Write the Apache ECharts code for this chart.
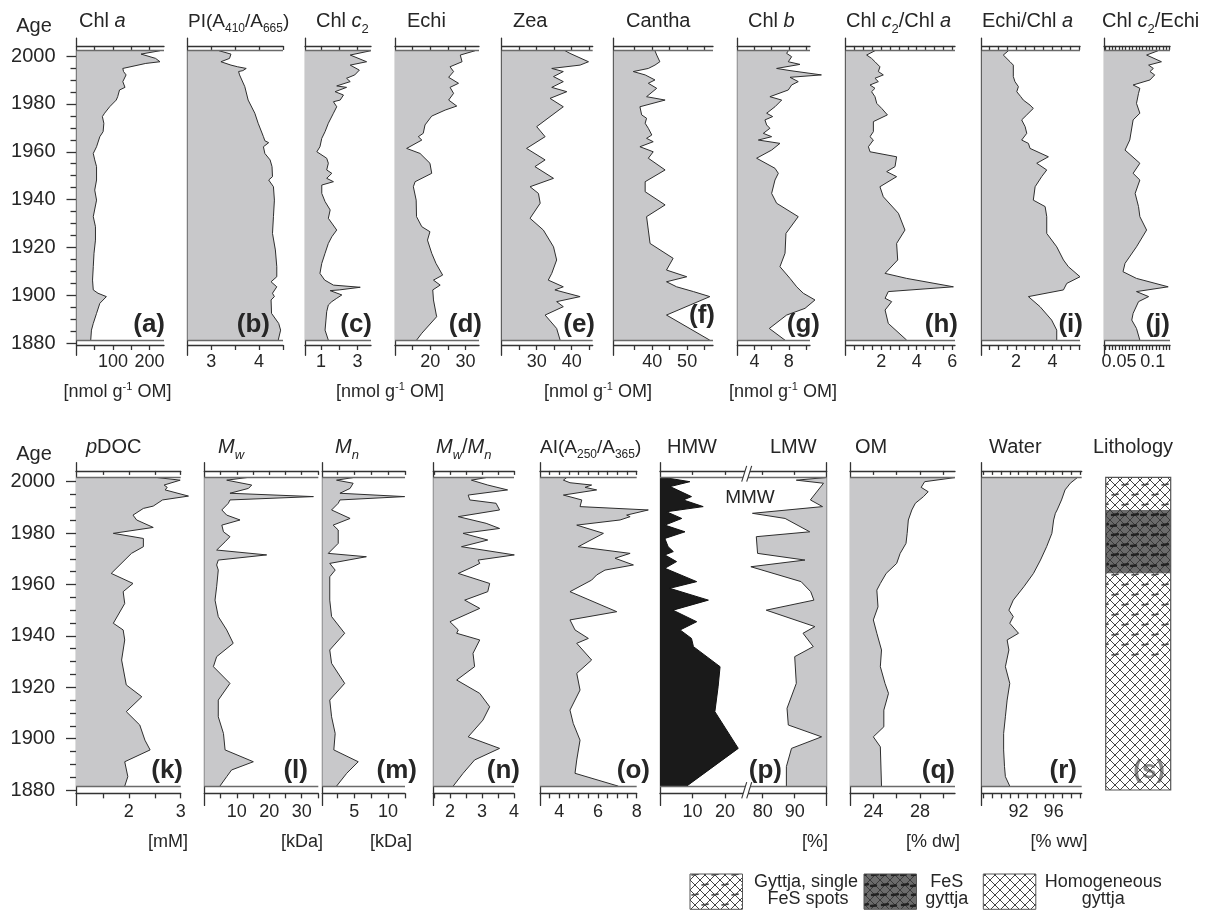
<!DOCTYPE html>
<html><head><meta charset="utf-8">
<script src="https://cdn.jsdelivr.net/npm/echarts@6/dist/echarts.min.js"></script>
<style>html,body{margin:0;padding:0;background:#fff}#c{width:1214px;height:914px}</style>
</head><body><div id="c"></div>
<script>
// ---------------- DATA (age [yr AD] / value) ----------------
const ageA = [2002.2,2000.8,1999.0,1997.6,1996.9,1994.8,1993.5,1992.1,1989.3,1986.9,1985.8,1983.0,1981.6,1978.8,1976.1,1974.7,1971.9,1971.2,1968.4,1966.3,1962.1,1959.3,1956.6,1953.8,1948.2,1944.0,1939.8,1932.9,1928.7,1923.1,1917.6,1912.0,1906.4,1902.3,1900.9,1899.5,1896.7,1892.5,1888.3,1885.5,1881.3];
const chlA = [229,177,217,229,190,127,129,136,127,133,118,113,109,91,77,71,75,80,73,64,55,46,50,55,55,50,55,46,52,52,48,46,44,46,59,82,64,55,46,41,39];
const ageB = [2002.2,2000.8,1999.0,1997.6,1996.2,1995.5,1994.8,1993.9,1993.5,1992.1,1987.2,1981.6,1976.1,1971.9,1966.3,1964.6,1963.8,1962.1,1959.3,1956.6,1953.8,1949.6,1948.2,1945.4,1939.8,1932.9,1925.9,1919.0,1912.0,1907.8,1905.7,1903.6,1900.9,1899.5,1898.1,1892.5,1888.3,1885.5,1881.3];
const piB = [3.16,3.41,3.38,3.2,3.41,3.55,3.73,3.66,3.57,3.59,3.7,3.77,3.91,3.98,4.09,4.12,4.2,4.09,4.12,4.23,4.27,4.28,4.2,4.3,4.32,4.3,4.28,4.34,4.37,4.37,4.25,4.37,4.28,4.32,4.25,4.26,4.41,4.45,4.4];
const ageC = [2002.2,2000.4,1997.6,1996.2,1994.1,1992.1,1990.7,1989.3,1987.5,1986.9,1985.1,1983.7,1981.6,1980.9,1978.8,1976.1,1971.9,1968.4,1965.6,1962.1,1960.0,1957.3,1955.2,1952.4,1951.0,1948.9,1947.5,1946.1,1942.6,1939.2,1935.7,1932.2,1927.3,1924.5,1921.7,1917.6,1913.4,1909.2,1906.4,1904.3,1903.4,1902.3,1902.0,1900.2,1898.8,1897.4,1896.0,1893.2,1889.7,1885.5,1881.3];
const chlC2 = [3.73,2.6,3.5,2.6,3.1,2.85,2.4,2.6,1.86,2.4,1.77,2.23,2.05,1.68,1.86,1.68,1.4,1.22,1.04,0.94,0.77,1.31,1.4,1.31,1.59,1.31,1.68,1.04,1.04,1.22,1.5,1.4,1.86,1.59,1.4,1.22,1.04,0.94,1.2,1.68,3.15,2.0,1.5,2.14,1.86,1.59,1.4,1.31,1.27,1.22,1.4];
const ageD = [2002.2,2000.4,1997.6,1995.5,1993.5,1991.1,1988.6,1986.9,1984.4,1981.6,1979.1,1977.4,1974.9,1971.2,1967.7,1966.3,1964.9,1961.4,1959.3,1955.2,1951.0,1947.5,1945.4,1939.8,1932.9,1928.7,1926.6,1923.1,1917.6,1913.4,1908.5,1906.4,1904.3,1902.3,1898.1,1891.1,1884.2,1881.3];
const echi = [32.7,28.5,29.0,25.6,26.6,25.2,28.0,25.6,26.6,25.2,27.5,24.2,20.4,18.5,18.0,16.6,17.6,13.3,17.1,19.9,20.4,15.7,15.2,16.0,16.1,17.6,19.9,19.2,20.4,21.6,23.5,20.9,22.8,20.7,20.9,21.8,17.6,16.1];
const ageE = [2002.2,2001.1,1997.6,1996.2,1994.8,1993.5,1991.4,1989.3,1986.9,1985.1,1982.3,1978.8,1970.5,1966.3,1961.4,1956.6,1953.8,1948.9,1945.4,1942.6,1938.5,1932.2,1927.3,1920.3,1914.8,1909.2,1906.4,1903.6,1902.3,1899.5,1897.4,1895.3,1891.8,1886.2,1881.3];
const zea = [38.1,39.5,44.8,42.4,34.3,37.6,34.8,37.6,34.3,38.6,33.8,37.6,30.0,32.4,27.1,32.4,29.5,34.8,28.1,30.5,31.0,28.1,31.9,34.8,35.7,34.3,33.3,37.6,35.2,42.4,35.7,37.6,32.4,35.7,36.7];
const ageF = [2002.2,2000.4,1997.6,1996.2,1994.8,1993.5,1992.1,1990.0,1988.6,1986.5,1983.0,1981.6,1978.8,1975.4,1974.0,1971.9,1969.8,1967.0,1965.6,1964.2,1962.1,1960.0,1957.3,1952.4,1947.5,1943.3,1937.8,1932.9,1927.3,1921.7,1915.5,1910.6,1907.8,1905.7,1903.6,1901.6,1899.5,1891.8,1881.3];
const cantha = [40.8,41.3,42.2,40.8,38.9,34.6,38.0,40.8,38.9,41.3,38.4,43.7,36.5,37.0,38.4,38.0,38.9,39.9,38.4,40.3,36.5,40.3,38.9,43.7,38.0,38.0,43.7,38.4,38.9,39.4,46.0,44.1,49.9,44.1,47.0,51.8,56.5,44.1,56.5];
const ageG = [2002.2,2001.1,1999.7,1997.6,1996.5,1994.8,1993.9,1992.1,1991.1,1989.3,1987.9,1985.8,1983.0,1981.6,1978.8,1976.1,1974.7,1973.3,1971.2,1969.8,1967.7,1966.3,1964.9,1963.5,1960.7,1957.3,1953.1,1951.0,1948.2,1942.6,1938.5,1932.9,1925.9,1917.6,1912.0,1907.1,1903.6,1900.9,1898.1,1894.6,1891.8,1886.2,1881.3];
const chlB = [7.94,7.75,8.33,7.94,9.3,6.58,8.14,11.8,8.14,9.1,8.33,7.94,5.8,7.17,6.39,5.42,6.12,5.22,5.42,5.8,5.03,6.0,4.45,6.97,6.0,4.25,6.39,6.78,6.39,6.0,6.58,9.1,7.67,7.56,6.97,8.14,8.92,9.69,11.05,9.89,7.75,5.73,7.56];
const ageH = [2002.2,2000.4,1999.0,1997.6,1995.5,1993.5,1992.1,1990.7,1989.3,1987.9,1986.5,1985.1,1983.0,1980.2,1978.1,1975.4,1972.6,1968.4,1966.3,1964.9,1962.1,1960.0,1957.9,1953.8,1951.7,1949.6,1945.4,1941.2,1934.3,1927.3,1921.7,1914.8,1909.2,1907.1,1903.6,1901.6,1898.8,1897.4,1893.9,1888.3,1881.3];
const c2ChlA = [1.65,1.18,1.46,1.65,1.93,1.84,2.12,1.65,1.84,1.37,1.65,1.46,1.65,1.75,2.03,2.35,1.56,1.56,1.37,1.56,1.28,1.37,2.87,2.78,2.31,2.87,1.93,2.12,2.97,3.34,2.87,2.93,2.22,3.44,6.07,2.4,2.22,2.59,2.22,2.4,3.44];
const ageI = [2002.2,2000.4,1997.6,1996.2,1991.4,1989.3,1987.2,1985.1,1983.0,1981.6,1979.5,1978.1,1975.4,1973.3,1970.5,1967.7,1964.9,1963.5,1961.4,1957.9,1955.2,1952.4,1949.6,1945.4,1939.8,1937.1,1932.9,1925.9,1920.3,1914.8,1912.0,1907.8,1905.0,1902.3,1899.5,1895.3,1889.7,1885.5,1881.3];
const echiChlA = [1.58,1.3,1.67,1.85,1.85,1.94,2.13,2.04,2.26,2.4,2.77,2.95,2.59,2.31,2.5,2.59,2.31,2.68,2.77,3.78,3.14,3.69,3.41,3.05,2.95,3.6,3.69,3.69,4.24,4.61,4.88,5.52,4.79,4.61,2.68,3.32,3.96,4.24,4.24];
const ageJ = [2002.2,2000.4,1997.6,1996.2,1994.8,1993.5,1992.1,1990.0,1987.9,1986.5,1984.4,1980.2,1976.1,1973.3,1964.9,1960.7,1955.2,1951.0,1948.2,1942.6,1937.1,1932.9,1927.3,1920.3,1913.4,1909.9,1907.1,1903.6,1901.6,1899.5,1897.4,1892.5,1889.7,1886.2,1881.3];
const c2Echi = [0.108,0.091,0.113,0.094,0.101,0.096,0.103,0.096,0.071,0.081,0.079,0.076,0.081,0.071,0.066,0.059,0.081,0.071,0.081,0.074,0.079,0.081,0.091,0.076,0.059,0.056,0.076,0.123,0.076,0.094,0.079,0.071,0.069,0.076,0.081];
const ageK = [2001.6,2000.6,1998.7,1997.8,1996.8,1994.4,1992.9,1990.5,1989.6,1987.0,1985.1,1982.2,1979.9,1977.9,1974.7,1972.1,1964.3,1960.4,1957.2,1952.6,1944.9,1942.3,1938.4,1930.6,1920.9,1916.3,1910.5,1905.3,1899.4,1895.6,1891.0,1885.2,1881.5];
const pDOC = [2.55,2.99,2.68,2.74,2.7,3.15,2.65,2.47,2.28,2.08,2.15,2.47,1.7,2.28,2.28,2.05,1.66,2.08,1.89,1.92,1.7,1.89,1.92,1.86,1.95,2.25,1.95,2.21,2.31,2.41,1.92,1.98,1.92];
const ageL = [2001.6,2000.6,1998.7,1997.4,1995.5,1994.2,1992.9,1991.6,1989.0,1987.0,1985.1,1983.1,1980.5,1978.6,1976.6,1973.4,1971.5,1969.5,1967.6,1965.6,1959.1,1953.9,1947.5,1942.3,1937.1,1931.9,1928.0,1921.5,1915.0,1908.5,1902.0,1895.6,1891.0,1887.8,1885.2,1881.5];
const mw = [13.1,6.9,14.6,13.6,7.9,33.6,7.9,7.4,5.4,6.9,11.0,5.4,5.9,7.9,6.4,3.8,19.2,4.3,3.8,4.3,3.8,3.3,4.3,6.9,8.9,3.8,2.8,7.9,4.3,4.3,5.9,6.4,15.1,8.4,6.9,4.8];
const ageM = [2001.6,2000.6,1999.4,1997.4,1995.5,1994.2,1992.9,1991.6,1989.0,1985.7,1983.1,1981.2,1976.0,1972.1,1970.8,1968.2,1965.6,1963.0,1953.9,1947.5,1941.0,1934.5,1929.3,1921.5,1915.0,1908.5,1902.0,1895.6,1891.0,1886.5,1881.5];
const mn = [4.85,2.4,4.85,4.4,2.9,12.45,2.9,2.65,1.67,4.4,1.9,2.65,2.65,1.18,6.8,1.4,2.2,1.4,1.4,1.67,3.6,1.4,1.67,3.6,1.4,1.67,2.2,2.0,5.6,3.9,2.4];
const ageN = [2001.6,2000.6,1998.7,1996.8,1994.8,1992.9,1991.6,1989.0,1986.4,1983.8,1981.8,1979.9,1977.3,1974.7,1971.5,1969.5,1968.2,1966.9,1964.3,1960.4,1957.2,1953.9,1950.7,1945.5,1942.3,1941.0,1938.4,1933.2,1928.0,1922.8,1917.6,1912.4,1907.2,1900.7,1896.2,1891.7,1886.5,1881.5];
const mwMn = [3.13,2.67,3.18,3.8,2.57,2.62,3.44,3.55,2.26,3.13,3.55,2.41,3.18,2.36,4.01,2.88,2.93,2.72,2.26,3.24,3.18,2.46,2.93,2.0,2.26,2.21,2.93,2.72,2.77,2.21,2.93,3.24,3.03,2.57,3.55,2.77,2.41,2.1];
const ageO = [2001.6,2000.6,1999.6,1998.7,1997.8,1996.8,1994.8,1992.9,1990.3,1989.0,1987.0,1986.4,1985.1,1983.1,1979.9,1974.7,1972.1,1970.2,1967.6,1965.6,1963.7,1961.7,1957.2,1949.4,1946.2,1942.3,1939.0,1937.1,1930.6,1925.4,1918.9,1911.1,1905.9,1899.4,1891.7,1886.5,1881.5];
const aiO = [4.38,4.21,4.55,5.67,5.33,5.93,4.21,5.16,5.07,8.6,7.48,7.66,7.14,4.9,6.28,4.98,7.66,6.88,7.83,6.36,5.93,5.67,4.55,6.97,4.55,4.81,5.5,4.9,5.67,4.9,5.07,4.55,4.72,5.07,4.9,4.81,7.05];
const ageHMW = [2001.6,2000.0,1998.1,1994.2,1992.9,1990.3,1988.3,1985.7,1983.1,1980.5,1977.9,1974.7,1972.8,1971.5,1968.9,1966.3,1961.1,1958.5,1953.9,1950.0,1945.5,1942.3,1939.0,1935.8,1928.0,1920.2,1910.5,1896.2,1881.5];
const hmw = [1.5,9.2,3.1,9.7,7.2,13.3,2.0,6.7,1.5,7.7,1.5,2.5,4.1,1.5,5.1,1.5,11.3,3.0,14.9,4.0,11.3,6.2,9.7,10.3,18.5,17.9,16.9,24.1,8.2];
const ageLMW = [2001.6,2000.6,1999.4,1992.9,1990.3,1987.7,1985.7,1980.5,1978.6,1972.1,1969.5,1966.9,1961.1,1957.2,1953.9,1950.0,1943.6,1941.0,1935.8,1931.9,1921.5,1911.8,1905.3,1900.7,1896.2,1889.1,1881.5];
const hmwPlusMmw = [99.6,90.5,99.0,94.9,98.7,76.8,87.0,94.7,78.0,78.4,93.2,76.3,92.0,95.0,96.0,81.1,96.3,92.6,95.8,90.0,90.5,87.6,88.0,98.4,89.0,87.4,87.4];
const ageQ = [2001.6,2000.0,1997.8,1996.1,1994.2,1991.6,1989.0,1985.1,1979.9,1976.0,1972.1,1968.2,1964.3,1960.4,1957.8,1951.3,1946.2,1941.0,1934.5,1928.0,1921.5,1917.6,1911.1,1904.6,1900.7,1896.8,1881.5];
const om = [31.0,28.4,28.1,28.7,28.3,27.6,27.3,27.0,26.9,26.8,26.3,26.0,25.1,24.6,24.3,24.4,24.0,24.3,24.7,24.6,25.0,25.3,24.9,24.9,24.0,24.6,24.7];
const ageR = [2001.6,1999.4,1996.8,1992.9,1989.0,1987.7,1985.1,1979.9,1974.7,1969.5,1964.3,1959.1,1953.9,1950.0,1947.5,1944.9,1941.0,1938.4,1934.5,1928.0,1921.5,1915.0,1908.5,1902.0,1895.6,1889.1,1885.2,1881.5];
const water = [98.7,97.9,97.3,96.9,96.4,96.2,96.0,95.8,95.2,94.5,93.7,92.6,91.4,90.9,91.4,91.0,92.0,90.7,90.9,90.5,91.0,90.7,90.5,90.3,90.3,90.4,90.5,91.0];
// lithology units: top age, bottom age, type (0 gyttja+FeS spots, 1 FeS gyttja, 2 homogeneous)
const lithoTop = [2001.7,1989.0,1964.3,1930.6];
const lithoBottom = [1989.0,1964.3,1930.6,1880.0];
const lithoType = [0,1,0,2];
// tick labels
const labA=[100,200], labB=[3,4], labC=[1,3], labD=[20,30], labE=[30,40], labF=[40,50], labG=[4,8], labH=[2,4,6], labI=[2,4], labJ=[0.05,0.1];
const labK=[2,3], labL=[10,20,30], labM=[5,10], labN=[2,3,4], labO=[4,6,8], labP1=[10,20], labP2=[80,90], labQ=[24,28], labR=[92,96];

// ---------------- LAYOUT / STYLE ----------------
const FONT = '"Liberation Sans", Arial, Helvetica, sans-serif';
const TXT = '#262626', AX = '#333', FILL = '#c8c8ca', EDGE = '#2e2e2e';
const rows = [
  {y2000:56, y1880:343.3, yrMin:1875, yrMax:2007.5, axB:1879.3, axT:2004.2, dTop:2002.2, dBot:1881.3, lblMargin:8},
  {y2000:481.7, y1880:790, yrMin:1874, yrMax:2007.4, axB:1878.7, axT:2004.2, dTop:2001.6, dBot:1881.5, lblMargin:10}
];
rows.forEach(r => { r.ppy = (r.y1880 - r.y2000)/120; r.px = yr => r.y2000 + (2000 - yr)*r.ppy; });
const steps = (a,b,s) => { const o=[]; for (let v=a; v<=b+1e-9; v+=s) o.push(+v.toFixed(4)); return o; };

const panels = [
  {row:0, x0:76.5, x1:164, min:0, max:240, ticks:[50,100,150,200], labels:labA, age:ageA, val:chlA},
  {row:0, x0:187.5, x1:283, min:2.5, max:4.5, ticks:[3,3.5,4,4.5], labels:labB, age:ageB, val:piB},
  {row:0, x0:305, x1:371, min:0.12, max:3.74, ticks:[1,2,3], labels:labC, age:ageC, val:chlC2},
  {row:0, x0:395, x1:479, min:10, max:33.8, ticks:[15,20,25,30], labels:labD, age:ageD, val:echi},
  {row:0, x0:501.7, x1:592.7, min:20, max:46, ticks:[25,30,35,40,45], labels:labE, age:ageE, val:zea},
  {row:0, x0:613.7, x1:713, min:29, max:57.4, ticks:[35,40,45,50,55], labels:labF, age:ageF, val:cantha},
  {row:0, x0:737.3, x1:810, min:2, max:10.47, ticks:[4,6,8,10], labels:labG, age:ageG, val:chlB},
  {row:0, x0:845.7, x1:955, min:0, max:6.16, ticks:steps(0.5,6,0.5), labels:labH, age:ageH, val:c2ChlA},
  {row:0, x0:981.7, x1:1080, min:0.11, max:5.52, ticks:steps(0.5,5.5,0.5), labels:labI, age:ageI, val:echiChlA},
  {row:0, x0:1104, x1:1170, min:0.0278, max:0.1257, ticks:steps(0.03,0.125,0.005), labels:labJ, age:ageJ, val:c2Echi},
  {row:1, x0:76, x1:180.7, min:0.98, max:3.0, ticks:[1.5,2,2.5,3], labels:labK, age:ageK, val:pDOC},
  {row:1, x0:204.3, x1:318.3, min:0, max:35.1, ticks:[5,10,15,20,25,30,35], labels:labL, age:ageL, val:mw},
  {row:1, x0:322.3, x1:405, min:0.3, max:12.5, ticks:[2.5,5,7.5,10,12.5], labels:labM, age:ageM, val:mn},
  {row:1, x0:433.3, x1:514, min:1.48, max:4, ticks:[1.5,2,2.5,3,3.5,4], labels:labN, age:ageN, val:mwMn},
  {row:1, x0:540, x1:636.7, min:3, max:8, ticks:steps(3.5,8,0.5), labels:labO, age:ageO, val:aiO},
  {row:1, x0:660, x1:746.7, min:0, max:26.7, ticks:[10,20], labels:labP1, age:ageHMW, val:hmw, color:'#1a1a1a', edge:'#111'},
  {row:1, x0:746.7, x1:826.7, min:75, max:100, ticks:[80,90], labels:labP2, age:ageLMW, val:hmwPlusMmw, origin:'end', yRight:true},
  {row:1, x0:850, x1:955, min:22, max:31, ticks:[24,26,28,30], labels:labQ, age:ageQ, val:om},
  {row:1, x0:981.7, x1:1081.7, min:87.8, max:99.2, ticks:steps(88,99,1), labels:labR, age:ageR, val:water}
];

const fmt = v => String(+(+v).toFixed(4));
const grids=[], xAxes=[], yAxes=[], series=[];
const axLS = {color:AX, width:1.3};

panels.forEach(p => {
  const r = rows[p.row], gi = grids.length;
  const top = r.px(r.yrMax), bot = r.px(r.yrMin);
  grids.push({left:p.x0, width:p.x1-p.x0, top:top, height:bot-top, containLabel:false, outerBoundsMode:'none'});
  xAxes.push({gridIndex:gi, type:'value', position:'bottom', min:p.min, max:p.max, offset:-(bot - r.px(r.axB)),
    axisLine:{show:true, onZero:false, lineStyle:axLS},
    axisTick:{show:true, customValues:p.ticks, length:5, lineStyle:axLS},
    axisLabel:{show:true, customValues:p.labels, formatter:fmt, fontSize:18, fontFamily:FONT, color:TXT, margin:r.lblMargin, hideOverlap:false},
    splitLine:{show:false}});
  xAxes.push({gridIndex:gi, type:'value', position:'top', min:p.min, max:p.max, offset:-(r.px(r.axT) - top),
    axisLine:{show:true, onZero:false, lineStyle:axLS},
    axisTick:{show:true, inside:true, customValues:p.ticks, length:4, lineStyle:axLS},
    axisLabel:{show:false}, splitLine:{show:false}});
  yAxes.push({gridIndex:gi, type:'time', position:p.yRight?'right':'left', min:r.yrMin, max:r.yrMax,
    axisLine:{show:true, onZero:false, lineStyle:axLS}, axisTick:{show:false}, axisLabel:{show:false}, splitLine:{show:false}});
  series.push({type:'line', xAxisIndex:xAxes.length-2, yAxisIndex:yAxes.length-1,
    data:p.age.map((a,i)=>[p.val[i], a]), symbol:'none', showSymbol:false, clip:false, silent:true, z:3,
    lineStyle:{color:p.edge||EDGE, width:1}, areaStyle:{color:p.color||FILL, opacity:1, origin:p.origin||'start'},
    markLine:{silent:true, symbol:'none', label:{show:false}, animation:false,
      lineStyle:{color:'#6a6a6a', width:1.4, type:'solid'}, data:[{yAxis:r.dTop},{yAxis:r.dBot}]}});
});

// Age axes (ticks + labels)
[{row:0, x:76.5},{row:1, x:76}].forEach(a => {
  const r = rows[a.row], gi = grids.length;
  grids.push({left:a.x, width:2, top:r.y2000, height:r.y1880-r.y2000, containLabel:false, outerBoundsMode:'none'});
  xAxes.push({gridIndex:gi, type:'value', show:false});
  yAxes.push({gridIndex:gi, type:'value', min:1880, max:2000, interval:20, position:'left',
    axisLine:{show:false}, axisTick:{show:true, length:10, lineStyle:axLS},
    minorTick:{show:true, splitNumber:4, length:6, lineStyle:axLS},
    axisLabel:{fontSize:20, fontFamily:FONT, color:TXT, margin:21, formatter:v => String(Math.round(v))},
    splitLine:{show:false}, minorSplitLine:{show:false}});
});

// Lithology patterns
function makePattern(kind) {
  const S = 20, c = document.createElement('canvas'); c.width = S; c.height = S;
  const g = c.getContext('2d');
  if (kind === 1) { g.fillStyle = '#6c6c6c'; g.fillRect(0,0,S,S); }
  else if (kind === 0) { g.fillStyle = '#fff'; g.fillRect(0,0,S,S); }
  g.strokeStyle = kind === 1 ? '#3a3a3a' : '#444'; g.lineWidth = 1;
  g.beginPath();
  for (let k=-S; k<=2*S; k+=10) { g.moveTo(k,0); g.lineTo(k+S,S); g.moveTo(k,0); g.lineTo(k-S,S); }
  g.stroke();
  if (kind !== 2) {
    g.strokeStyle = kind === 1 ? '#222' : '#4a4a4a'; g.lineWidth = kind === 1 ? 2.4 : 1.7; g.lineCap='round';
    g.beginPath();
    g.moveTo(2,5); g.lineTo(8,4.2); g.moveTo(12,15); g.lineTo(18,14.2);
    if (kind === 1) { g.moveTo(11,6); g.lineTo(16,5.5); g.moveTo(1,15); g.lineTo(6,14.5); }
    g.stroke();
  }
  return {type:'pattern', image:c, repeat:'repeat'};
}
const PAT = [makePattern(0), makePattern(1), makePattern(2)];

{
  const r = rows[1], gi = grids.length;
  const top = r.px(r.yrMax), bot = r.px(r.yrMin);
  grids.push({left:1105.7, width:65, top:top, height:bot-top, containLabel:false, outerBoundsMode:'none'});
  xAxes.push({gridIndex:gi, type:'value', min:0, max:1, show:false});
  yAxes.push({gridIndex:gi, type:'time', min:r.yrMin, max:r.yrMax, show:false});
  series.push({type:'custom', xAxisIndex:xAxes.length-1, yAxisIndex:yAxes.length-1, silent:true, z:5, clip:false,
    data:lithoTop.map((t,i)=>[t, lithoBottom[i], lithoType[i]]),
    encode:{y:[0,1]},
    renderItem:(params, api) => {
      const p0 = api.coord([0, api.value(0)]), p1 = api.coord([1, api.value(1)]);
      return {type:'rect', shape:{x:p0[0], y:p0[1], width:p1[0]-p0[0], height:p1[1]-p0[1]},
        style:{fill:PAT[api.value(2)], stroke:null}};
    }});
}

// ---------------- TEXT / DECORATION ----------------
const mctx = document.createElement('canvas').getContext('2d');
function T(x, y, text, o) {
  o = o || {};
  const al = o.al || 'left', va = o.va || 'middle';
  return {type:'text', x:x, y:y, z:o.z==null?100:o.z, silent:true,
    style:{text:text, fontSize:o.fs||18, fontFamily:FONT, fontStyle:o.it?'italic':'normal', fontWeight:o.b?'bold':'normal',
      fill:o.fill||TXT, align:al, textAlign:al, verticalAlign:va, textVerticalAlign:va}};
}
function run(x, base, parts, fs, align) {
  const items = parts.map(pt => {
    const t = pt[0], s = pt[1] || 'n';
    const it = (s === 'i' || s === 'isub');
    const sz = (s === 'sub' || s === 'isub') ? Math.round(fs*0.65) : s === 'sup' ? Math.round(fs*0.6) : fs;
    const dy = (s === 'sub' || s === 'isub') ? fs*0.25 : s === 'sup' ? -fs*0.38 : 0;
    mctx.font = (it?'italic ':'') + sz + 'px ' + FONT;
    return {t:t, it:it, sz:sz, dy:dy, w:mctx.measureText(t).width};
  });
  const total = items.reduce((a,b)=>a+b.w, 0);
  let cx = align === 'center' ? x - total/2 : align === 'right' ? x - total : x;
  return items.map(itm => { const e = T(cx, base + itm.dy - 0.35*itm.sz, itm.t, {fs:itm.sz, it:itm.it}); cx += itm.w; return e; });
}
const G = [];
// Age headers
G.push(...run(34, 33, [['Age']], 20, 'center'));
G.push(...run(34, 461.5, [['Age']], 20, 'center'));
// Titles
const titleTop = [
  [79, [['Chl '],['a','i']]], [188, [['PI(A'],['410','sub'],['/A'],['665','sub'],[')']]],
  [316, [['Chl '],['c','i'],['2','sub']]], [407, [['Echi']]], [513, [['Zea']]], [626, [['Cantha']]],
  [748, [['Chl '],['b','i']]], [846, [['Chl '],['c','i'],['2','sub'],['/Chl '],['a','i']]],
  [982, [['Echi/Chl '],['a','i']]], [1102, [['Chl '],['c','i'],['2','sub'],['/Echi']]]
];
titleTop.forEach((t,i) => G.push(...run(t[0], 28.5, t[1], i === 1 ? 19 : 20, 'left')));
const titleBot = [
  [86, [['p','i'],['DOC']]], [218, [['M','i'],['w','isub']]], [335, [['M','i'],['n','isub']]],
  [436, [['M','i'],['w','isub'],['/'],['M','i'],['n','isub']]], [540, [['AI(A'],['250','sub'],['/A'],['365','sub'],[')']]],
  [667, [['HMW']]], [770, [['LMW']]], [855, [['OM']]], [989, [['Water']]], [1093, [['Lithology']]]
];
titleBot.forEach((t,i) => G.push(...run(t[0], 454.5, t[1], i === 4 ? 19 : 20, 'left')));
G.push(...run(750, 504, [['MMW']], 19, 'center'));
// Units
const nmol = [['[nmol g'],['-1','sup'],[' OM]']];
[117.5, 390, 598, 783].forEach(x => G.push(...run(x, 398, nmol, 18, 'center')));
[[168,'[mM]'],[302,'[kDa]'],[391,'[kDa]'],[815,'[%]'],[933,'[% dw]'],[1059,'[% ww]']].forEach(u => G.push(...run(u[0], 848, [[u[1]]], 18, 'center')));
// Panel letters
const letTop = [['(a)',165],['(b)',270],['(c)',372],['(d)',482],['(e)',595],['(f)',715,316],['(g)',820],['(h)',958],['(i)',1083],['(j)',1170]];
letTop.forEach(l => G.push(T(l[1], l[2]||325, l[0], {fs:26, b:true, al:'right'})));
const letBot = [['(k)',183],['(l)',308],['(m)',417],['(n)',520],['(o)',650],['(p)',782],['(q)',955],['(r)',1077]];
letBot.forEach(l => G.push(T(l[1], 771, l[0], {fs:26, b:true, al:'right'})));
G.push(T(1165, 771, '(s)', {fs:26, b:true, al:'right', fill:'#8a8a8a', z:0}));
// lithology outline
{
  const r = rows[1], y0 = r.px(lithoTop[0]), y1 = r.px(lithoBottom[lithoBottom.length-1]);
  G.push({type:'rect', z:110, silent:true, shape:{x:1105.7, y:y0, width:65, height:y1-y0}, style:{fill:null, stroke:'#555', lineWidth:1.2}});
}
// axis break marks in panel (p)
{
  const r = rows[1], xb = 746.7;
  const pairs = [[r.px(r.axT)-5, r.px(r.dTop)+4], [r.px(r.dBot)-4, r.px(r.axB)+5]];
  pairs.forEach(([ya, yb]) => {
    G.push({type:'polygon', z:120, silent:true, shape:{points:[[xb-5,yb],[xb,ya],[xb+5,ya],[xb,yb]]}, style:{fill:'#fff', stroke:null}});
    G.push({type:'line', z:121, silent:true, shape:{x1:xb-5, y1:yb, x2:xb, y2:ya}, style:{stroke:AX, lineWidth:1.1}});
    G.push({type:'line', z:121, silent:true, shape:{x1:xb, y1:yb, x2:xb+5, y2:ya}, style:{stroke:AX, lineWidth:1.1}});
  });
}
// legend
[[690,0],[864,1],[983.3,2]].forEach(b => G.push({type:'rect', z:100, silent:true, shape:{x:b[0], y:874, width:52.5, height:35.3}, style:{fill:PAT[b[1]], stroke:'#555', lineWidth:1}}));
G.push(...run(806, 888, [['Gyttja, single']], 18, 'center'));
G.push(...run(808, 905, [['FeS spots']], 18, 'center'));
G.push(...run(946.7, 888, [['FeS']], 18, 'center'));
G.push(...run(946.7, 905, [['gyttja']], 18, 'center'));
G.push(...run(1103.3, 888, [['Homogeneous']], 18, 'center'));
G.push(...run(1103.3, 905, [['gyttja']], 18, 'center'));

const chart = echarts.init(document.getElementById('c'), null, {renderer:'canvas'});
chart.setOption({
  animation:false, backgroundColor:'#fff',
  grid:grids, xAxis:xAxes, yAxis:yAxes, series:series,
  graphic:{elements:G}
});
</script></body></html>
